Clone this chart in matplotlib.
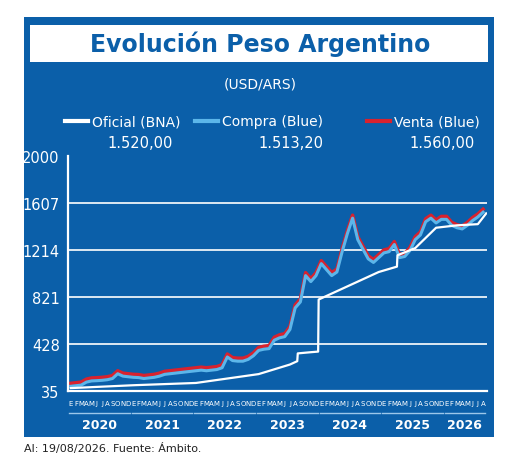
import matplotlib.pyplot as plt
from matplotlib.patches import Rectangle
import numpy as np

# monthly data, Jan 2020 .. Aug 2026
compra = [75, 80, 85, 110, 120, 122, 125, 130, 140, 180, 160, 155,
          150, 148, 140, 145, 150, 160, 175, 180, 185, 190, 195, 200,
          205, 210, 205, 210, 215, 230, 320, 290, 285, 285, 300, 330,
          375, 385, 390, 460, 480, 490, 550, 730, 780, 1000, 950, 1000,
          1100, 1050, 1000, 1030, 1200, 1350, 1480, 1300, 1220, 1140, 1110, 1150,
          1190, 1200, 1260, 1150, 1160, 1210, 1300, 1340, 1450, 1480, 1440, 1470,
          1470, 1420, 1400, 1390, 1420, 1460, 1490, 1530]
venta = [c + 25 for c in compra]
of_x = [0, 12, 24, 36, 42, 43.4, 43.5, 46, 47.4, 47.5, 59, 62.5, 62.6, 66, 70, 74, 78, 79.6]
of_y = [60, 84, 103, 177, 257, 285, 350, 360, 365, 800, 1030, 1075, 1170, 1230, 1400, 1420, 1430, 1520]
years = ["2020", "2021", "2022", "2023", "2024", "2025", "2026"]
months = list("EFMAMJJASOND")
y_ticks = [35, 428, 821, 1214, 1607, 2000]
legend_labels = ["Oficial (BNA)", "Compra (Blue)", "Venta (Blue)"]
legend_values = ["1.520,00", "1.513,20", "1.560,00"]

blue = "#0b5fa9"
c_compra = "#5cb6ea"
c_venta = "#d8222e"

fig = plt.figure(figsize=(5.2, 4.77), dpi=100)
fig.patches.append(Rectangle((0.046, 0.082), 0.904, 0.880, transform=fig.transFigure,
                             facecolor=blue, edgecolor="none", zorder=-2))
fig.patches.append(Rectangle((0.058, 0.868), 0.880, 0.078, transform=fig.transFigure,
                             facecolor="white", edgecolor="none", zorder=-1))
fig.text(0.5, 0.907, "Evolución Peso Argentino", ha="center", va="center",
         fontsize=17, fontweight="bold", color=blue)
fig.text(0.5, 0.822, "(USD/ARS)", ha="center", va="center", fontsize=10, color="white")

# legend
leg_x = [0.125, 0.375, 0.705]
leg_cols = ["white", c_compra, c_venta]
val_x = [0.27, 0.56, 0.85]
for lx, col, lab, vx, val in zip(leg_x, leg_cols, legend_labels, val_x, legend_values):
    fig.lines.append(plt.Line2D([lx, lx + 0.045], [0.744, 0.744], color=col, lw=3,
                                transform=fig.transFigure))
    fig.text(lx + 0.052, 0.744, lab, ha="left", va="center", fontsize=10, color="white")
    fig.text(vx, 0.700, val, ha="center", va="center", fontsize=10.5, color="white")

ax = fig.add_axes([0.131, 0.178, 0.806, 0.493])
ax.set_zorder(5)
ax.set_facecolor("none")
x = np.arange(len(compra))
ax.plot(x, venta, color=c_venta, lw=2.5, zorder=2)
ax.plot(x, compra, color=c_compra, lw=2.2, zorder=3)
ax.plot(of_x, of_y, color="white", lw=1.6, zorder=4)
ax.set_xlim(-0.5, 79.8)
ax.set_ylim(35, 2000)
for t in y_ticks[1:-1]:
    ax.axhline(t, color="white", lw=1.2, zorder=1)
ax.set_yticks(y_ticks)
ax.set_yticklabels([str(t) for t in y_ticks], color="white", fontsize=10.5)
ax.tick_params(length=0, pad=6)
ax.set_xticks([])
for s in ["top", "right"]:
    ax.spines[s].set_visible(False)
for s in ["left", "bottom"]:
    ax.spines[s].set_color("white")
    ax.spines[s].set_linewidth(1.6)

tr = ax.get_xaxis_transform()
for i in range(len(compra)):
    ax.text(i, -0.05, months[i % 12], transform=tr, ha="center", va="center",
            fontsize=5, color="white", clip_on=False)
for k, yr in enumerate(years):
    start = k * 12 - 0.3
    end = min(k * 12 + 11, len(compra) - 1) + 0.3
    ax.plot([start, end], [-0.095, -0.095], transform=tr, color="#9cc7ea", lw=1, clip_on=False)
    ax.text((start + end) / 2, -0.14, yr, transform=tr, ha="center", va="center",
            fontsize=9, fontweight="bold", color="white", clip_on=False)

fig.text(0.046, 0.06, "Al: 19/08/2026. Fuente: Ámbito.", ha="left", va="center",
         fontsize=8, color="#222222")

fig.savefig("out.png", dpi=100)
